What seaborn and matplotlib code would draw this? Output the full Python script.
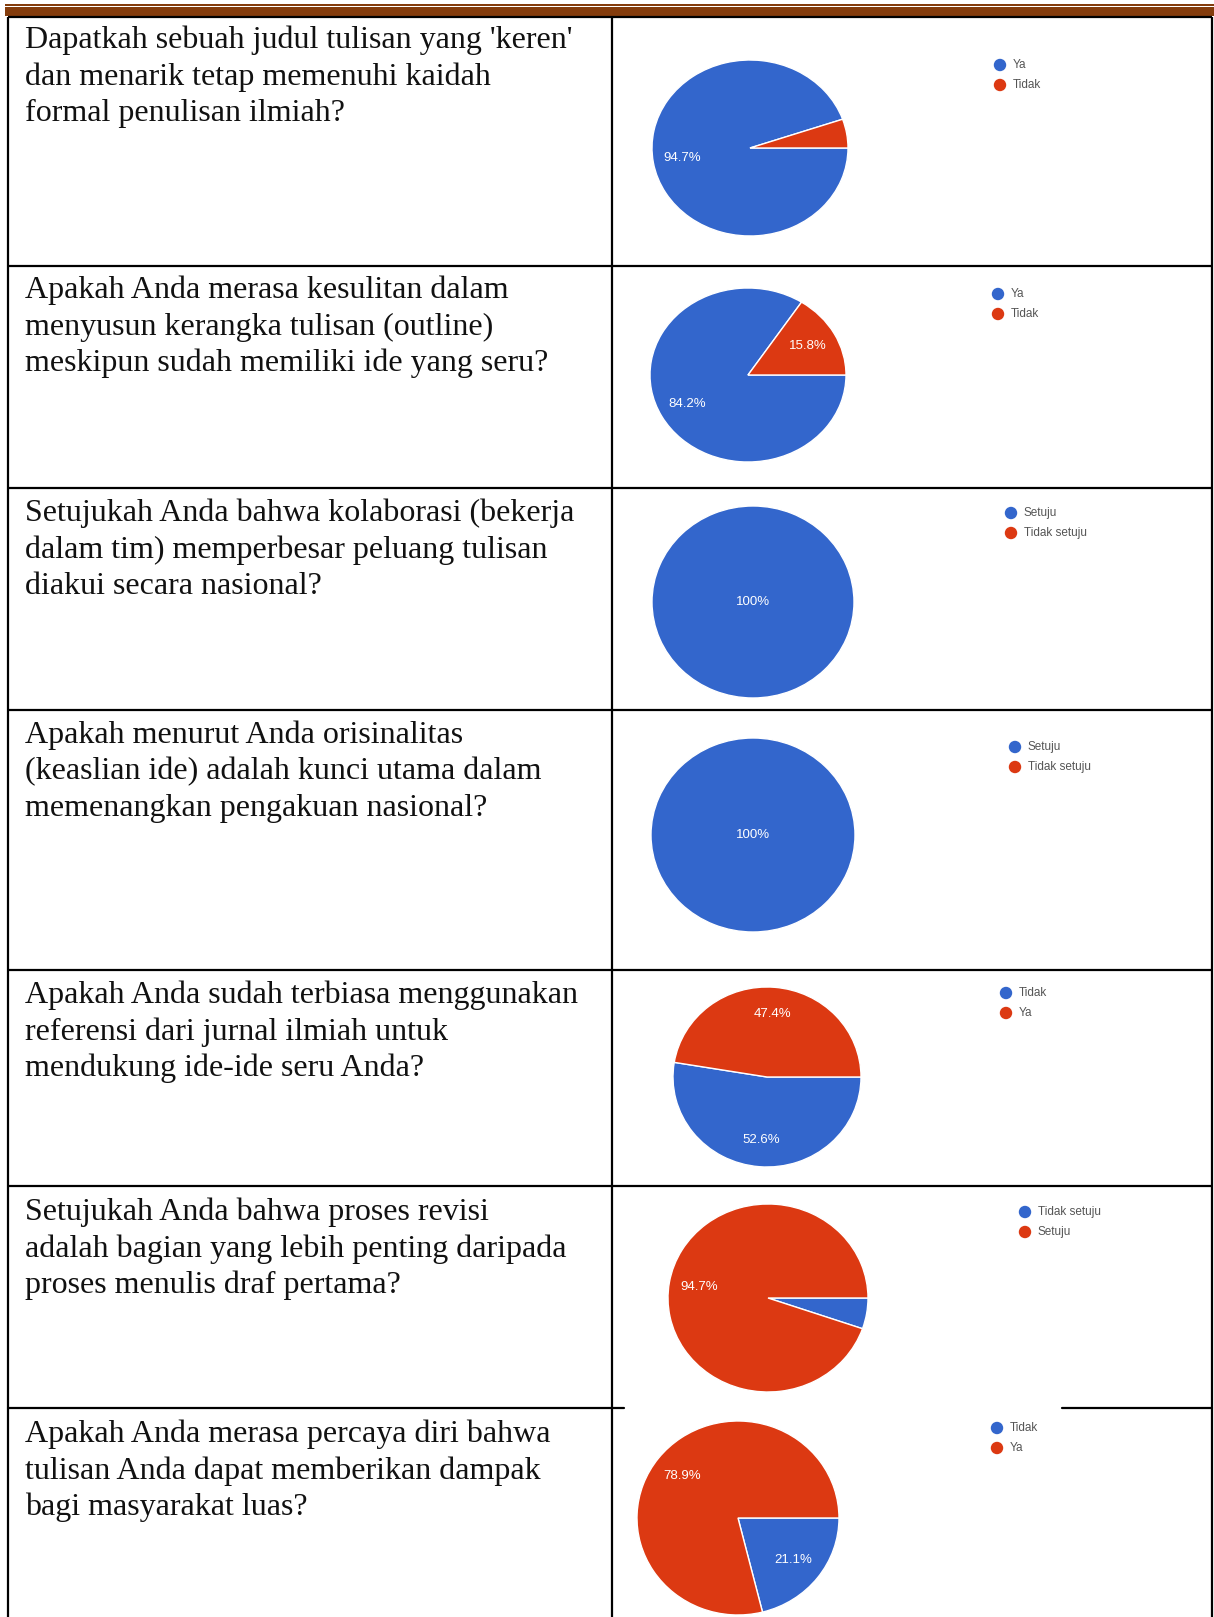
import matplotlib
matplotlib.use("Agg")
import matplotlib.pyplot as plt
import seaborn as sns
from matplotlib.patches import Rectangle

# ---------------- data ----------------
questions = [
    ["Dapatkah sebuah judul tulisan yang 'keren'",
     "dan menarik tetap memenuhi kaidah",
     "formal penulisan ilmiah?"],
    ["Apakah Anda merasa kesulitan dalam",
     "menyusun kerangka tulisan (outline)",
     "meskipun sudah memiliki ide yang seru?"],
    ["Setujukah Anda bahwa kolaborasi (bekerja",
     "dalam tim) memperbesar peluang tulisan",
     "diakui secara nasional?"],
    ["Apakah menurut Anda orisinalitas",
     "(keaslian ide) adalah kunci utama dalam",
     "memenangkan pengakuan nasional?"],
    ["Apakah Anda sudah terbiasa menggunakan",
     "referensi dari jurnal ilmiah untuk",
     "mendukung ide-ide seru Anda?"],
    ["Setujukah Anda bahwa proses revisi",
     "adalah bagian yang lebih penting daripada",
     "proses menulis draf pertama?"],
    ["Apakah Anda merasa percaya diri bahwa",
     "tulisan Anda dapat memberikan dampak",
     "bagi masyarakat luas?"],
]
legend_labels = [
    ["Ya", "Tidak"],
    ["Ya", "Tidak"],
    ["Setuju", "Tidak setuju"],
    ["Setuju", "Tidak setuju"],
    ["Tidak", "Ya"],
    ["Tidak setuju", "Setuju"],
    ["Tidak", "Ya"],
]
values = [
    [94.7, 5.3],
    [84.2, 15.8],
    [100.0, 0.0],
    [100.0, 0.0],
    [52.6, 47.4],
    [5.3, 94.7],
    [21.1, 78.9],
]

# ---------------- layout (pixels) ----------------
W, H = 1214, 1617
row_tops = [17, 266, 488, 710, 970, 1186, 1408]
text_baselines = [48, 298, 521, 743, 1003, 1220, 1442]
line_step = 36.5
pie_geom = [(750, 148, 98, 88), (748, 375, 98, 87), (753, 602, 101, 96),
            (753, 835, 102, 97), (767, 1077, 94, 90), (768, 1298, 100, 94),
            (738, 1518, 101, 97)]
legend_pos = [(1000, 65), (998, 294), (1011, 513), (1015, 747),
              (1006, 993), (1025, 1212), (997, 1428)]

sns.set_theme(style="white")
plt.rcParams["font.family"] = ["Liberation Sans", "DejaVu Sans"]
palette = sns.color_palette(["#3366CC", "#DC3912"])

fig = plt.figure(figsize=(W / 100, H / 100), dpi=100)
fig.patch.set_facecolor("white")
bg = fig.add_axes([0, 0, 1, 1])
bg.set_xlim(0, W)
bg.set_ylim(H, 0)
bg.axis("off")

# brown double rule at top
brown = "#843C0C"
bg.add_patch(Rectangle((5, 3.8), W - 5, 2.0, color=brown, lw=0))
bg.add_patch(Rectangle((5, 7.3), W - 5, 8.6, color=brown, lw=0))

# table grid
lw = 1.6
for x in (8, 612, 1212):
    bg.plot([x, x], [17, H], color="black", lw=lw, solid_capstyle="butt")
for y in row_tops[:-1]:
    bg.plot([8, 1212], [y, y], color="black", lw=lw, solid_capstyle="butt")
bg.plot([8, 624], [row_tops[-1], row_tops[-1]], color="black", lw=lw)
bg.plot([1062, 1212], [row_tops[-1], row_tops[-1]], color="black", lw=lw)

# question text
for lines, base in zip(questions, text_baselines):
    for k, ln in enumerate(lines):
        bg.text(25, base + k * line_step, ln, family=["Liberation Serif", "DejaVu Serif"],
                fontsize=23, color="#111111", ha="left", va="baseline")


def pct_fmt(p):
    if p < 6:
        return ""
    if p > 99.95:
        return "100%"
    return f"{p:.1f}%"


pad = 1.02
for vals, labs, (cx, cy, rx, ry), (lx, ly) in zip(values, legend_labels, pie_geom, legend_pos):
    ax = fig.add_axes([(cx - rx * pad) / W, 1 - (cy + ry * pad) / H,
                       2 * rx * pad / W, 2 * ry * pad / H])
    draw_vals = [v for v in vals if v > 0]
    draw_cols = [c for v, c in zip(vals, palette) if v > 0]
    ax.pie(draw_vals, colors=draw_cols, startangle=0, counterclock=False,
           autopct=pct_fmt, pctdistance=0 if len(draw_vals) == 1 else 0.7,
           wedgeprops=dict(edgecolor="white", linewidth=1.0),
           textprops=dict(color="white", fontsize=9.5))
    ax.set_aspect("auto")
    ax.set_xlim(-pad, pad)
    ax.set_ylim(-pad, pad)
    ax.axis("off")
    # legend
    for j, (lab, col) in enumerate(zip(labs, palette)):
        yy = ly + j * 20
        bg.scatter([lx], [yy], s=80, color=col, edgecolors="none", zorder=5)
        bg.text(lx + 13, yy, lab, fontsize=8.5, color="#555555", ha="left", va="center")

fig.savefig("out.png", dpi=100, facecolor="white")
